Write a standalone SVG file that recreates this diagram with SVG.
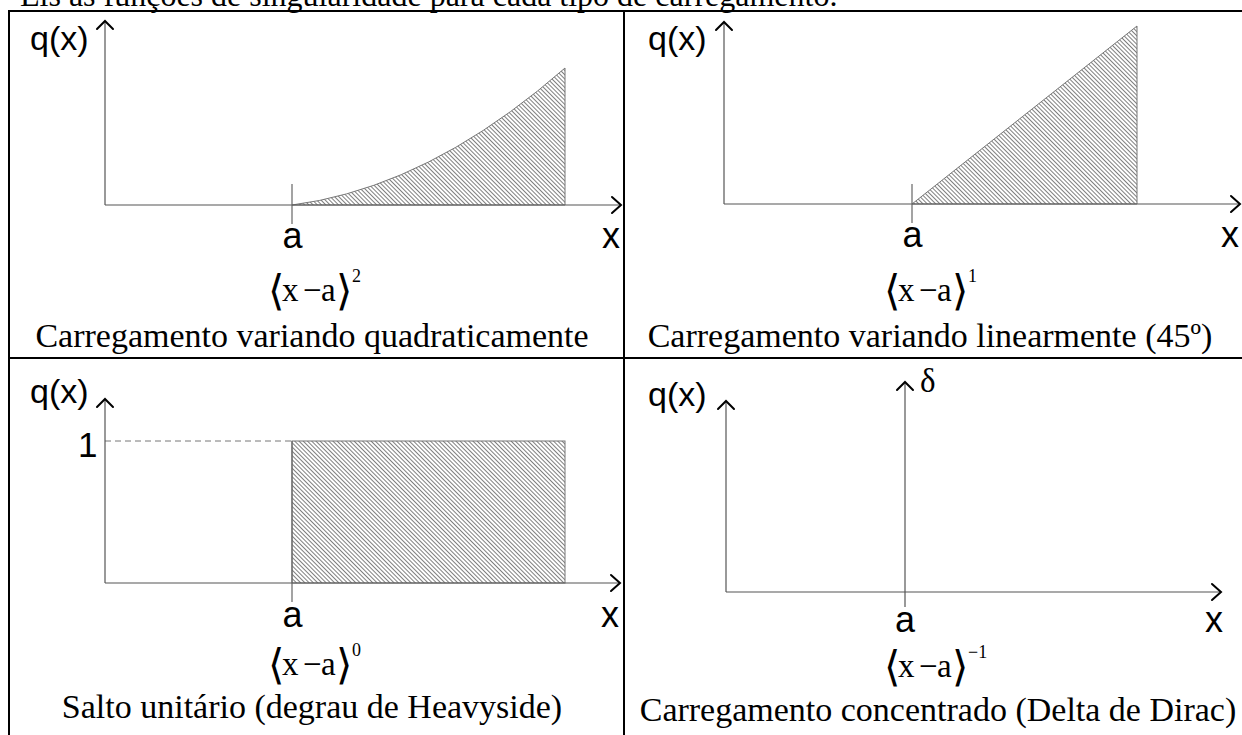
<svg xmlns="http://www.w3.org/2000/svg" width="1242" height="735" viewBox="0 0 1242 735">
<style>
.border{stroke:#000;stroke-width:2;fill:none}
.axis{stroke:#555;stroke-width:1.2;fill:none}
.tick{stroke:#666;stroke-width:1.2;fill:none}
.head{stroke:#000;stroke-width:2;fill:none;stroke-linecap:round;stroke-linejoin:miter}
.area{fill:url(#hatch);stroke:#777;stroke-width:1}
.dash{stroke:#777;stroke-width:1;stroke-dasharray:6,4;fill:none}
.sans{font-family:"Liberation Sans",Arial,sans-serif;font-size:36px;fill:#000}
.q{font-size:34px}
.serif{font-family:"Liberation Serif","Times New Roman",serif;font-size:33px;fill:#000}
.cap{font-size:34px}
.br{font-family:"DejaVu Sans","DejaVu Serif",sans-serif;font-weight:200;font-size:42px}
.sup{font-size:18px}
</style>
<defs>
<pattern id="hatch" patternUnits="userSpaceOnUse" width="3" height="3" patternTransform="rotate(-45)">
<line x1="1.5" y1="-1" x2="1.5" y2="4" stroke="#707070" stroke-width="0.9"/>
</pattern>
</defs>

<text class="serif" x="20" y="6" style="font-size:32px">Eis as funções de singularidade para cada tipo de carregamento.</text>

<g id="table">
<line class="border" x1="8" y1="11" x2="1242" y2="11"/>
<line class="border" x1="9" y1="10" x2="9" y2="735"/>
<line class="border" x1="624" y1="10" x2="624" y2="735"/>
<line class="border" x1="8" y1="358" x2="1242" y2="358"/>
</g>

<g id="cell-quadratic">
<path class="area" d="M292,205 L319.3,200.5 L346.6,193.9 L373.9,185.3 L401.2,174.7 L428.5,162 L455.8,147.3 L483.1,130.5 L510.4,111.7 L537.7,90.9 L565,68 L565,205 Z"/>
<text class="sans q" x="30" y="50">q(x)</text>
<text class="sans" x="292.5" y="248" text-anchor="middle">a</text>
<text class="sans" x="611" y="248" text-anchor="middle">x</text>
<text class="serif" y="301"><tspan class="br" x="268" y="305">⟨</tspan><tspan x="282" y="301">x</tspan><tspan x="303">−</tspan><tspan x="321">a</tspan><tspan class="br" x="336" y="305">⟩</tspan><tspan class="sup" x="352" y="282">2</tspan></text>
<text class="serif cap" x="312" y="347" text-anchor="middle">Carregamento variando quadraticamente</text>
</g>

<g id="cell-linear">
<path class="area" d="M912,204 L1137,26 L1137,204 Z"/>
<text class="sans q" x="648" y="50">q(x)</text>
<text class="sans" x="912.5" y="247" text-anchor="middle">a</text>
<text class="sans" x="1230" y="247" text-anchor="middle">x</text>
<text class="serif" y="301"><tspan class="br" x="884" y="305">⟨</tspan><tspan x="898" y="301">x</tspan><tspan x="919">−</tspan><tspan x="937">a</tspan><tspan class="br" x="952" y="305">⟩</tspan><tspan class="sup" x="968" y="282">1</tspan></text>
<text class="serif cap" x="930" y="347" text-anchor="middle">Carregamento variando linearmente (45º)</text>
</g>

<g id="cell-step">
<path class="dash" d="M105,441 L292,441"/>
<rect class="area" x="292" y="441" width="273" height="142"/>
<text class="sans q" x="30" y="403">q(x)</text>
<text class="sans" x="78" y="457" style="font-size:35px">1</text>
<text class="sans" x="292.5" y="627" text-anchor="middle">a</text>
<text class="sans" x="610" y="627" text-anchor="middle">x</text>
<text class="serif" y="675"><tspan class="br" x="268" y="679">⟨</tspan><tspan x="282" y="675">x</tspan><tspan x="303">−</tspan><tspan x="321">a</tspan><tspan class="br" x="336" y="679">⟩</tspan><tspan class="sup" x="352" y="656">0</tspan></text>
<text class="serif cap" x="312" y="718" text-anchor="middle">Salto unitário (degrau de Heavyside)</text>
</g>

<g id="cell-dirac">
<text class="sans q" x="648" y="406">q(x)</text>
<text class="serif" x="920" y="392">δ</text>
<text class="sans" x="905" y="632" text-anchor="middle">a</text>
<text class="sans" x="1214" y="632" text-anchor="middle">x</text>
<text class="serif" y="677"><tspan class="br" x="884" y="681">⟨</tspan><tspan x="898" y="677">x</tspan><tspan x="919">−</tspan><tspan x="937">a</tspan><tspan class="br" x="952" y="681">⟩</tspan><tspan class="sup" x="968" y="658">−1</tspan></text>
<text class="serif cap" x="938" y="721" text-anchor="middle">Carregamento concentrado (Delta de Dirac)</text>
</g>

<g id="connectors">
<line class="axis" x1="105" y1="21" x2="105" y2="205"/>
<polyline class="head" points="97,29 105,21 113,29"/>
<line class="axis" x1="105" y1="205" x2="621" y2="205"/>
<polyline class="head" points="612,197 621,205 612,213"/>
<line class="tick" x1="292" y1="184" x2="292" y2="224"/>

<line class="axis" x1="724" y1="22" x2="724" y2="204"/>
<polyline class="head" points="716,30 724,22 732,30"/>
<line class="axis" x1="724" y1="204" x2="1240" y2="204"/>
<polyline class="head" points="1231,196 1240,204 1231,212"/>
<line class="tick" x1="912" y1="184" x2="912" y2="223"/>

<line class="axis" x1="105" y1="399" x2="105" y2="583"/>
<polyline class="head" points="97,407 105,399 113,407"/>
<line class="axis" x1="105" y1="583" x2="620" y2="583"/>
<polyline class="head" points="611,575 620,583 611,591"/>
<line class="tick" x1="292" y1="441" x2="292" y2="602"/>

<line class="axis" x1="726" y1="401" x2="726" y2="592"/>
<polyline class="head" points="718,409 726,401 734,409"/>
<line class="axis" x1="905" y1="382" x2="905" y2="607"/>
<polyline class="head" points="897,390 905,382 913,390"/>
<line class="axis" x1="726" y1="592" x2="1221" y2="592"/>
<polyline class="head" points="1212,584 1221,592 1212,600"/>
</g>
</svg>
